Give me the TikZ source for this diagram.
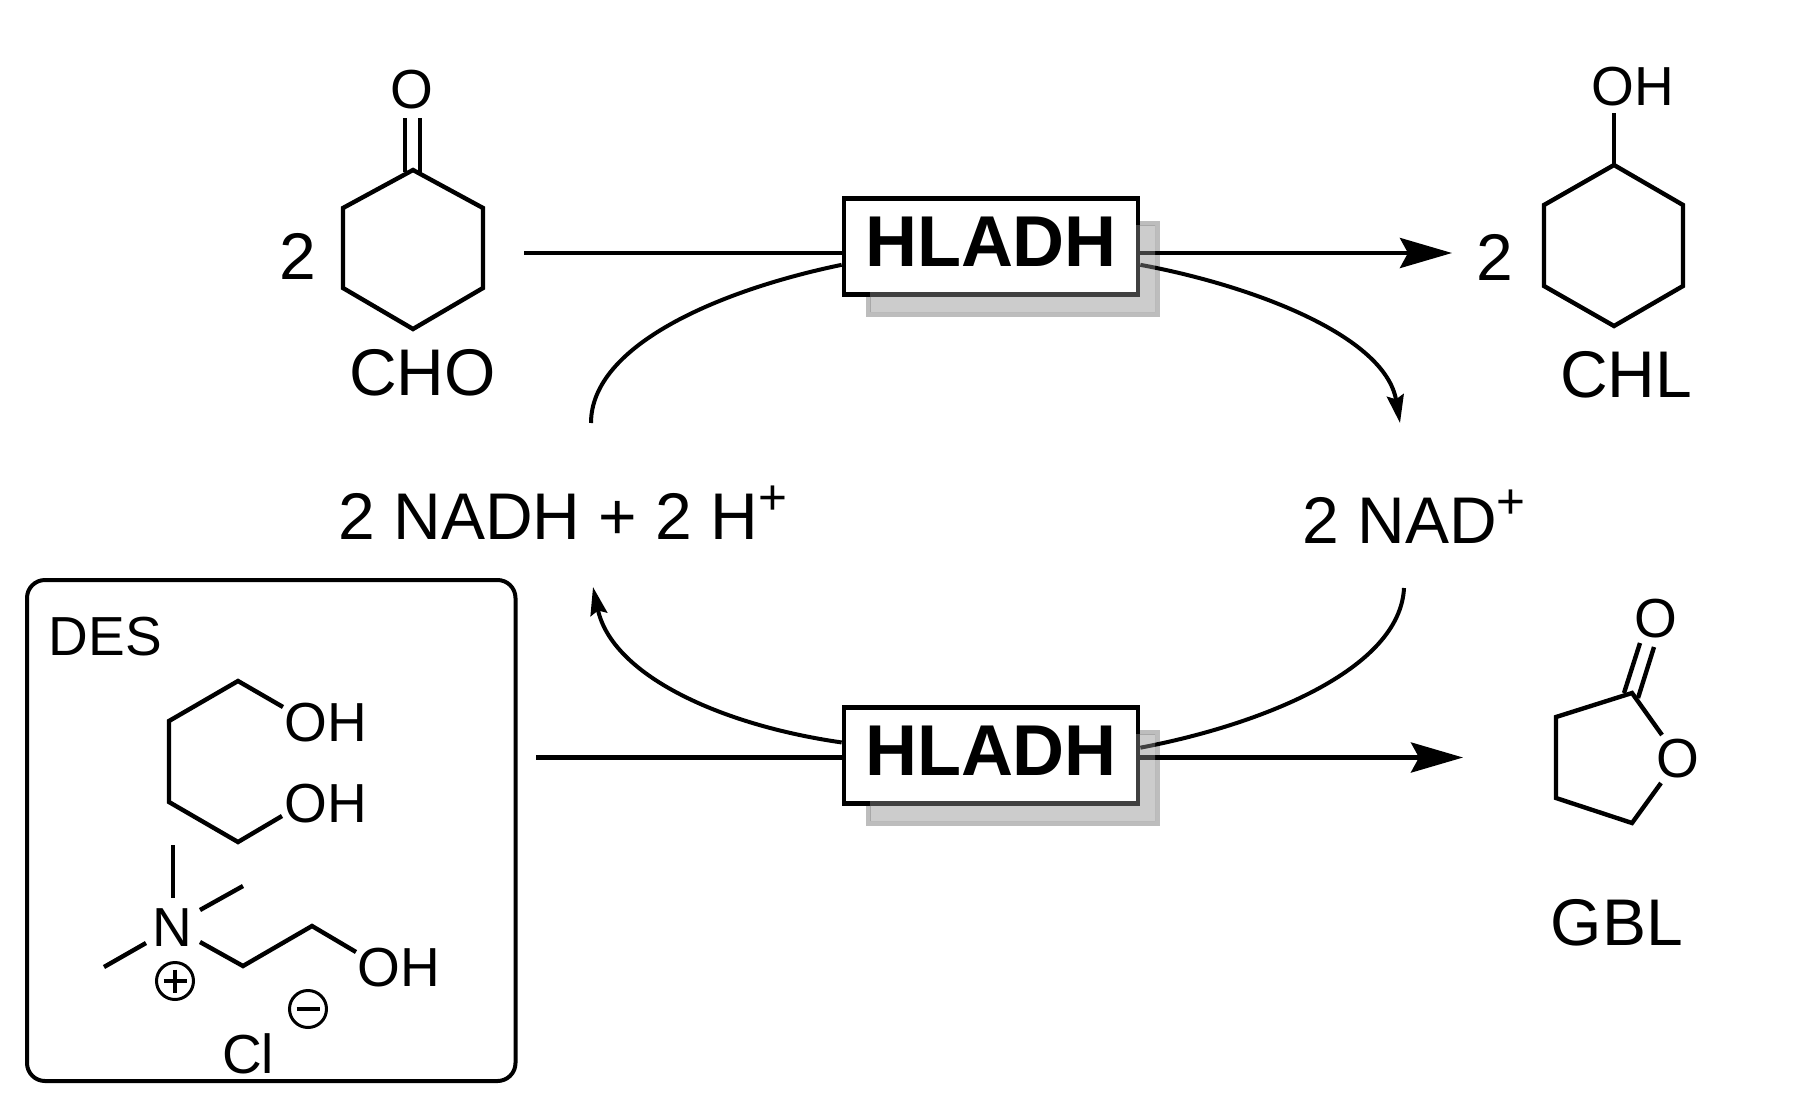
\documentclass[tikz,border=0pt]{standalone}
\usepackage{fontspec}
\setmainfont{Liberation Sans}
\usetikzlibrary{arrows.meta}
\tikzstyle{bond} = [line width=2.2pt, line join=miter]
\tikzstyle{rxn} = [line width=2.3pt]
\tikzstyle{cyc} = [line width=2pt]
\tikzstyle{big} = [inner sep=0, anchor=base, font=\fontsize{33}{36}\selectfont]
\tikzstyle{bigleft} = [inner sep=0, anchor=base west, font=\fontsize{33}{36}\selectfont]
\tikzstyle{atom} = [inner sep=0, anchor=base, font=\fontsize{27.5}{30}\selectfont]
\tikzstyle{enzyme} = [rectangle, draw=black, fill=white, line width=2.35pt, minimum width=147pt, minimum height=48pt, inner sep=0, text depth=4.5pt, font=\fontsize{36}{40}\bfseries\selectfont]
\tikzstyle{shadowfill} = [fill=black!44, fill opacity=0.45]
\tikzstyle{shadowline} = [draw=black!26, line width=2.5pt]
\tikzstyle{charge} = [circle, draw=black, line width=1.5pt, minimum size=18.5pt, inner sep=0]
\newcommand{\supplus}{\raisebox{12.5pt}{\fontsize{24.75}{26}\selectfont +}}

\begin{document}
\begin{tikzpicture}[x=0.5pt, y=-0.5pt]
\useasboundingbox (0,0) rectangle (1803,1108);

% shadow outlines
\foreach \dy in {0, 509} {
  \draw[shadowline] (1136,223.5+\dy) -- (1157.5,223.5+\dy) -- (1157.5,314.5+\dy) -- (868.5,314.5+\dy) -- (868.5,297+\dy);
}

% main reactions
\coordinate (chostart) at (524,253);
\coordinate (chlend) at (1452,253);
\coordinate (desstart) at (536,757.5);
\coordinate (gblend) at (1463,757.5);
\coordinate (nadhtop) at (591,423);
\coordinate (nadtop) at (1400,423);
\coordinate (nadbot) at (1404,588);
\coordinate (nadhbot) at (593,587);

% enzymes
\node (hladhtop) [enzyme] at (991,246.5) {HLADH};
\node (hladhbot) [enzyme] at (991,755.5) {HLADH};

\draw[rxn] (chostart) -- (hladhtop.west |- chostart);
\draw[rxn, -{Stealth[length=26pt, width=15pt, inset=4pt]}] (hladhtop.east |- chlend) -- (chlend);
\draw[rxn] (desstart) -- (hladhbot.west |- desstart);
\draw[rxn, -{Stealth[length=26pt, width=15pt, inset=4pt]}] (hladhbot.east |- gblend) -- (gblend);

% cofactor cycle
\draw[cyc] (hladhtop.187) .. controls (720,290) and (591,345) .. (nadhtop);
\draw[cyc, -{Stealth[length=14pt, width=8.5pt, inset=2pt]}] (hladhtop.-7) .. controls (1250,285) and (1385,335) .. (nadtop);
\draw[cyc] (hladhbot.3) .. controls (1260,725) and (1400,670) .. (nadbot);
\draw[cyc, -{Stealth[length=14pt, width=8.5pt, inset=2pt]}] (hladhbot.175) .. controls (720,725) and (612,675) .. (nadhbot);

% shadow fills
\foreach \dy in {0, 509} {
  \fill[shadowfill] (1136,225+\dy) -- (1155,225+\dy) -- (1155,312+\dy) -- (870,312+\dy) -- (870,292+\dy) -- (1136,292+\dy) -- cycle;
}

% cyclohexanone
\node (chotwo) [big] at (297.5,279) {2};
\node (choO) [atom] at (412,108) {O};
\node (cho) [big] at (422.5,395) {CHO};
\draw[bond] (413,170) -- (483,208) -- (483,288) -- (413,329) -- (343,288) -- (343,208) -- cycle;
\draw[bond] (405,118) -- (405,172) (420,118) -- (420,172);

% cyclohexanol
\node (chltwo) [big] at (1495,280) {2};
\node (chlOH) [atom] at (1633,105) {OH};
\node (chl) [big] at (1626,397) {CHL};
\draw[bond] (1614,165) -- (1683,205) -- (1683,286) -- (1614,326) -- (1544,286) -- (1544,205) -- cycle;
\draw[bond] (1614,113) -- (1614,165);

% cofactors
\node (nadh) [bigleft] at (338,539) {2 NADH + 2 H\supplus};
\node (nad) [bigleft] at (1302,543) {2 NAD\supplus};

% lactone
\node (gblOtop) [atom] at (1656,637) {O};
\node (gblO) [atom] at (1678,777) {O};
\node (gbl) [big] at (1617,945) {GBL};
\draw[bond] (1662,735) -- (1632,693) -- (1556,717) -- (1556,798) -- (1632,823) -- (1661,783);
\draw[bond] (1624,693) -- (1640,643) (1638,698) -- (1654,647);

% solvent
\draw[line width=2pt, rounded corners=9pt] (27,580) rectangle (515.5,1081);
\node (des) [atom] at (105.5,655) {DES};
\node (diolOHa) [atom] at (326,741) {OH};
\node (diolOHb) [atom] at (326,822) {OH};
\draw[bond] (283,707) -- (238,681) -- (169,721) -- (169,802) -- (238,842) -- (282,816);
\node (cholN) [atom] at (172.5,946) {N};
\node (cholOH) [atom] at (399,986) {OH};
\node (chlorine) [atom] at (248,1073) {Cl};
\draw[bond] (173,845) -- (173,898);
\draw[bond] (200,910) -- (243,886);
\draw[bond] (146,943) -- (104,967);
\draw[bond] (200,942) -- (243,966) -- (312,926) -- (356,952);
\node (plus) [charge] at (175,981) {};
\draw[line width=1.6pt] (plus.center) ++(-11.5,0) -- ++(23,0) (plus.center) ++(0,-11.5) -- ++(0,23);
\node (minus) [charge] at (308,1009) {};
\draw[line width=1.6pt] (minus.center) ++(-11.5,0) -- ++(23,0);
\end{tikzpicture}
\end{document}
